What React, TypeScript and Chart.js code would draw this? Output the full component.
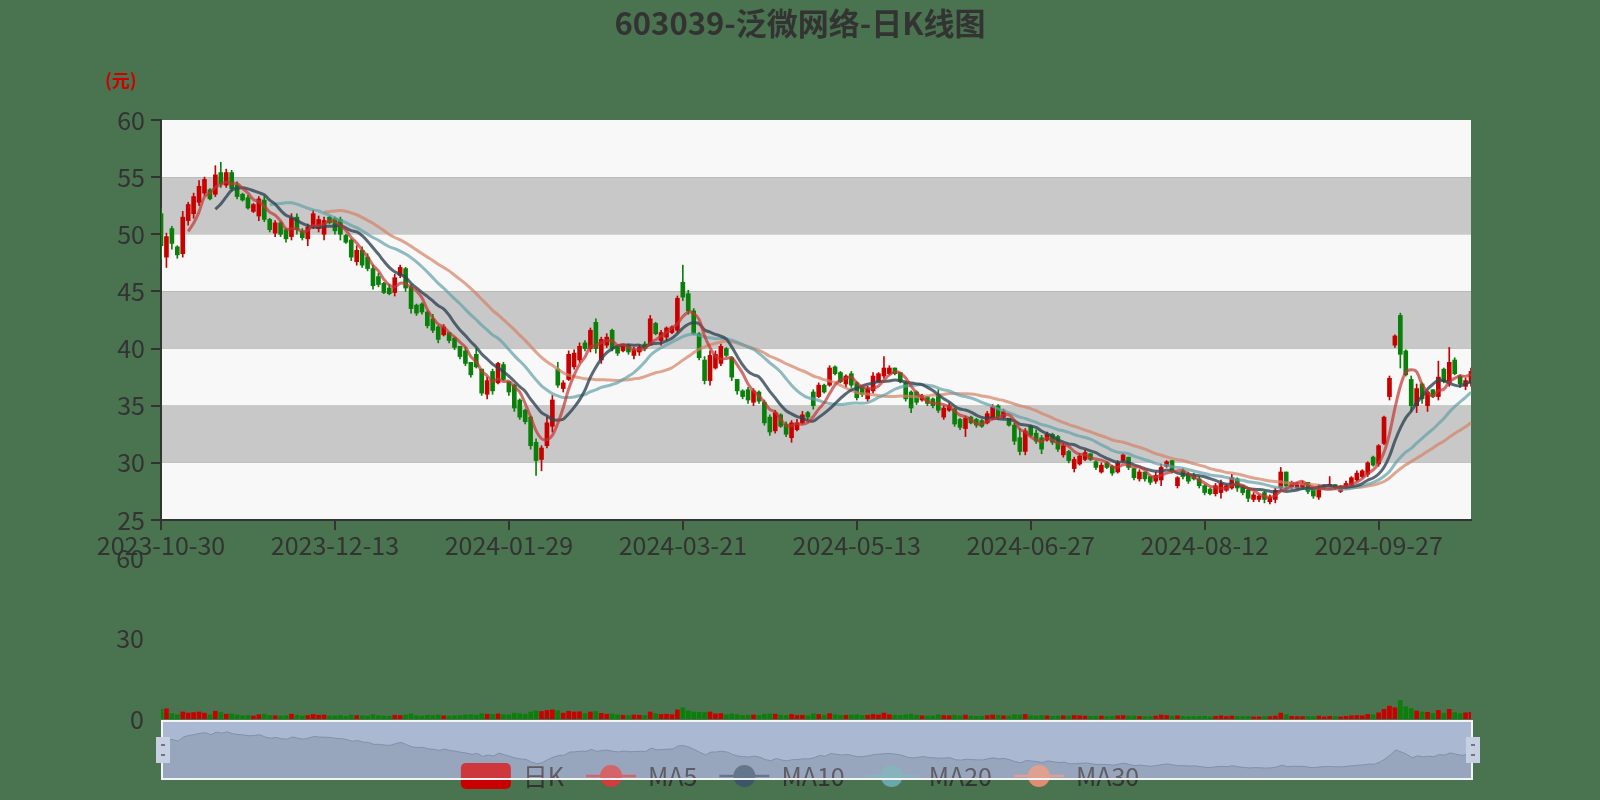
import React, { useEffect, useRef } from "react";
import { Chart, registerables } from "chart.js";

Chart.register(...registerables);

const FONT = "'Noto Sans CJK SC', 'Noto Sans', sans-serif";
const BG = "#4a7350";
const UP = "#c80000";
const DOWN = "#0a800a";

const titleText = "603039-泛微网络-日K线图";
const unitText = "(元)";
const seriesNames = ["日K", "MA5", "MA10", "MA20", "MA30"];
const maPeriods = [5, 10, 20, 30];
const maColors = ["rgba(194,53,49,0.7)", "rgba(47,69,84,0.8)", "rgba(97,160,168,0.7)", "rgba(212,130,101,0.7)"];
const legendColors = ["#c80000", "#d23c3c", "#3b5569", "#6aa6ad", "#e08c70"];

const dates = [
  "2023-10-30", "2023-10-31",
  "2023-11-01", "2023-11-02", "2023-11-03", "2023-11-06", "2023-11-07", "2023-11-08", "2023-11-09", "2023-11-10", "2023-11-13", "2023-11-14", "2023-11-15", "2023-11-16", "2023-11-17", "2023-11-20", "2023-11-21", "2023-11-22", "2023-11-23", "2023-11-24", "2023-11-27", "2023-11-28", "2023-11-29", "2023-11-30",
  "2023-12-01", "2023-12-04", "2023-12-05", "2023-12-06", "2023-12-07", "2023-12-08", "2023-12-11", "2023-12-12", "2023-12-13", "2023-12-14", "2023-12-15", "2023-12-18", "2023-12-19", "2023-12-20", "2023-12-21", "2023-12-22", "2023-12-25", "2023-12-26", "2023-12-27", "2023-12-28", "2023-12-29",
  "2024-01-02", "2024-01-03", "2024-01-04", "2024-01-05", "2024-01-08", "2024-01-09", "2024-01-10", "2024-01-11", "2024-01-12", "2024-01-15", "2024-01-16", "2024-01-17", "2024-01-18", "2024-01-19", "2024-01-22", "2024-01-23", "2024-01-24", "2024-01-25", "2024-01-26", "2024-01-29", "2024-01-30", "2024-01-31",
  "2024-02-01", "2024-02-02", "2024-02-05", "2024-02-06", "2024-02-07", "2024-02-08", "2024-02-19", "2024-02-20", "2024-02-21", "2024-02-22", "2024-02-23", "2024-02-26", "2024-02-27", "2024-02-28", "2024-02-29",
  "2024-03-01", "2024-03-04", "2024-03-05", "2024-03-06", "2024-03-07", "2024-03-08", "2024-03-11", "2024-03-12", "2024-03-13", "2024-03-14", "2024-03-15", "2024-03-18", "2024-03-19", "2024-03-20", "2024-03-21", "2024-03-22", "2024-03-25", "2024-03-26", "2024-03-27", "2024-03-28", "2024-03-29",
  "2024-04-01", "2024-04-02", "2024-04-03", "2024-04-08", "2024-04-09", "2024-04-10", "2024-04-11", "2024-04-12", "2024-04-15", "2024-04-16", "2024-04-17", "2024-04-18", "2024-04-19", "2024-04-22", "2024-04-23", "2024-04-24", "2024-04-25", "2024-04-26", "2024-04-29", "2024-04-30",
  "2024-05-06", "2024-05-07", "2024-05-08", "2024-05-09", "2024-05-10", "2024-05-13", "2024-05-14", "2024-05-15", "2024-05-16", "2024-05-17", "2024-05-20", "2024-05-21", "2024-05-22", "2024-05-23", "2024-05-24", "2024-05-27", "2024-05-28", "2024-05-29", "2024-05-30", "2024-05-31",
  "2024-06-03", "2024-06-04", "2024-06-05", "2024-06-06", "2024-06-07", "2024-06-11", "2024-06-12", "2024-06-13", "2024-06-14", "2024-06-17", "2024-06-18", "2024-06-19", "2024-06-20", "2024-06-21", "2024-06-24", "2024-06-25", "2024-06-26", "2024-06-27", "2024-06-28",
  "2024-07-01", "2024-07-02", "2024-07-03", "2024-07-04", "2024-07-05", "2024-07-08", "2024-07-09", "2024-07-10", "2024-07-11", "2024-07-12", "2024-07-15", "2024-07-16", "2024-07-17", "2024-07-18", "2024-07-19", "2024-07-22", "2024-07-23", "2024-07-24", "2024-07-25", "2024-07-26", "2024-07-29", "2024-07-30", "2024-07-31",
  "2024-08-01", "2024-08-02", "2024-08-05", "2024-08-06", "2024-08-07", "2024-08-08", "2024-08-09", "2024-08-12", "2024-08-13", "2024-08-14", "2024-08-15", "2024-08-16", "2024-08-19", "2024-08-20", "2024-08-21", "2024-08-22", "2024-08-23", "2024-08-26", "2024-08-27", "2024-08-28", "2024-08-29", "2024-08-30",
  "2024-09-02", "2024-09-03", "2024-09-04", "2024-09-05", "2024-09-06", "2024-09-09", "2024-09-10", "2024-09-11", "2024-09-12", "2024-09-13", "2024-09-18", "2024-09-19", "2024-09-20", "2024-09-23", "2024-09-24", "2024-09-25", "2024-09-26", "2024-09-27", "2024-09-30",
  "2024-10-08", "2024-10-09", "2024-10-10", "2024-10-11", "2024-10-14", "2024-10-15", "2024-10-16", "2024-10-17", "2024-10-18", "2024-10-21", "2024-10-22", "2024-10-23", "2024-10-24", "2024-10-25", "2024-10-28", "2024-10-29",
];

const openPrices = [
  51.8, 48.0, 50.5, 48.9, 48.3, 51.2, 51.8, 52.8, 53.6, 53.9,
  53.5, 55.4, 54.3, 55.4, 54.3, 53.5, 53.2, 52.0, 51.6, 53.0,
  51.3, 50.1, 51.0, 50.4, 49.8, 51.5, 50.3, 49.6, 50.6, 50.5,
  50.0, 51.5, 51.4, 51.3, 49.9, 49.5, 47.6, 48.6, 48.0, 47.0,
  46.3, 45.7, 45.3, 44.9, 46.4, 47.0, 45.4, 43.8, 43.9, 43.2,
  42.6, 41.9, 41.2, 41.4, 40.9, 40.2, 39.8, 38.8, 39.5, 38.2,
  36.0, 38.0, 37.0, 38.6, 37.1, 36.8, 35.5, 34.6, 34.0, 31.8,
  30.3, 31.5, 33.2, 38.2, 36.5, 37.3, 38.4, 39.0, 40.5, 40.0,
  42.3, 39.0, 40.3, 41.6, 40.2, 39.8, 40.3, 39.4, 39.7, 40.4,
  40.3, 42.2, 40.7, 41.0, 41.4, 41.6, 45.8, 44.8, 43.3, 41.3,
  39.0, 37.2, 38.3, 38.7, 40.0, 39.2, 37.3, 36.3, 36.4, 35.3,
  36.2, 35.3, 34.0, 32.8, 34.2, 33.4, 32.2, 32.9, 33.5, 34.4,
  36.2, 35.8, 36.8, 36.8, 38.4, 37.9, 36.9, 37.8, 37.0, 36.6,
  35.6, 36.3, 37.1, 37.6, 37.8, 38.3, 37.9, 37.0, 36.2, 36.2,
  35.5, 35.8, 35.6, 36.0, 34.0, 34.6, 34.7, 33.8, 33.0, 34.0,
  33.8, 33.7, 33.5, 33.9, 35.0, 34.0, 33.9, 33.3, 32.2, 31.0,
  33.2, 32.6, 32.2, 32.0, 32.5, 32.3, 30.7, 31.0, 29.5, 29.9,
  30.3, 30.8, 30.1, 29.2, 30.0, 29.7, 29.2, 30.2, 30.5, 29.5,
  28.6, 29.2, 28.8, 28.4, 28.5, 29.7, 30.2, 28.0, 29.3, 29.0,
  28.9, 28.6, 28.0, 27.7, 27.3, 27.4, 27.6, 27.8, 28.6, 27.9,
  27.6, 26.8, 26.8, 27.4, 26.6, 26.8, 27.8, 29.2, 27.9, 27.8,
  27.9, 28.3, 27.8, 27.0, 27.8, 27.8, 28.1, 27.5, 27.8, 28.1,
  28.5, 28.8, 29.0, 30.5, 29.9, 31.7, 35.8, 40.3, 42.9, 39.8,
  37.3, 35.0, 36.9, 35.0, 36.4, 35.8, 38.2, 37.0, 39.0, 37.6,
  36.7, 37.0,
];

const closePrices = [
  49.0, 49.8, 49.2, 48.2, 51.5, 52.6, 53.3, 54.2, 54.8, 53.1,
  55.2, 54.4, 55.4, 54.0, 53.3, 53.0, 52.3, 52.6, 53.1, 51.3,
  50.4, 51.0, 50.0, 49.6, 51.4, 50.4, 49.7, 50.6, 51.8, 51.3,
  51.2, 51.0, 50.3, 50.0, 49.3, 48.0, 48.6, 47.3, 47.0, 45.5,
  45.6, 44.9, 44.8, 46.2, 47.1, 45.3, 43.5, 43.1, 43.2, 42.0,
  41.6, 40.8, 41.9, 40.7, 40.1, 39.3, 38.7, 37.7, 38.4, 36.1,
  37.2, 36.3, 38.7, 37.3, 36.2, 34.8, 34.0, 33.6, 31.5, 30.2,
  31.3, 33.5, 35.5, 36.8, 37.0, 39.5, 39.6, 40.2, 40.0, 41.6,
  40.0, 40.8, 41.0, 40.0, 39.6, 40.3, 39.7, 39.9, 40.1, 40.0,
  42.6, 41.3, 41.4, 41.8, 41.9, 44.4, 44.5, 43.3, 41.3, 39.2,
  37.2, 39.4, 39.5, 40.2, 39.4, 37.5, 36.3, 35.8, 35.5, 36.3,
  35.4, 33.5, 32.7, 34.4, 33.2, 32.5, 33.5, 33.5, 34.2, 34.0,
  35.0, 36.8, 36.2, 38.3, 37.8, 37.1, 37.6, 36.8, 35.7, 36.0,
  36.5, 37.6, 37.8, 38.3, 38.3, 37.8, 37.1, 35.6, 34.8, 35.3,
  35.9, 35.2, 35.0, 34.6, 34.8, 35.0, 33.4, 33.1, 33.9, 33.5,
  33.3, 33.2, 34.3, 34.9, 34.0, 34.5, 33.3, 31.9, 31.0, 32.8,
  32.4, 31.9, 31.2, 32.5, 31.8, 31.2, 31.5, 30.2, 30.3, 30.6,
  30.9, 30.3, 29.6, 29.8, 29.6, 29.1, 30.0, 30.7, 29.6, 28.7,
  29.2, 28.6, 28.3, 28.9, 29.6, 30.1, 29.3, 28.7, 28.8, 28.4,
  28.6, 28.0, 27.4, 27.3, 28.0, 28.2, 28.0, 28.7, 27.8, 27.4,
  26.9, 27.2, 27.1, 26.8, 27.0, 27.6, 29.2, 28.0, 28.3, 28.2,
  28.2, 27.5, 27.1, 27.8, 28.0, 28.1, 27.8, 27.8, 28.2, 28.7,
  29.1, 29.3, 30.0, 29.8, 31.5, 34.0, 37.4, 41.1, 39.5, 37.7,
  35.0, 36.5, 35.6, 36.2, 35.8, 37.5, 37.1, 38.8, 37.8, 36.9,
  37.2, 38.0,
];

const lowPrices = [
  47.8, 47.1, 48.7, 47.9, 48.0, 50.8, 51.4, 52.5, 53.4, 53.0,
  53.3, 54.1, 54.1, 53.8, 53.1, 52.9, 52.2, 51.9, 51.2, 51.1,
  50.2, 49.8, 49.8, 49.3, 49.5, 50.0, 49.5, 49.0, 50.5, 50.2,
  49.5, 50.9, 50.0, 49.5, 49.2, 47.7, 47.3, 47.1, 46.8, 45.2,
  45.4, 44.8, 44.7, 44.6, 46.2, 45.0, 43.1, 42.9, 43.0, 41.8,
  41.4, 40.5, 41.1, 40.5, 39.9, 39.1, 38.5, 37.5, 38.3, 35.9,
  35.6, 36.0, 36.9, 37.2, 35.9, 34.5, 33.8, 33.4, 31.2, 28.9,
  29.3, 31.3, 32.7, 36.6, 36.2, 37.2, 38.2, 38.8, 39.8, 39.7,
  39.6, 38.7, 40.1, 39.8, 39.4, 39.7, 39.5, 39.1, 39.4, 39.8,
  40.3, 41.2, 40.3, 40.7, 41.3, 41.4, 44.2, 43.0, 41.2, 39.0,
  36.9, 36.8, 38.2, 38.5, 39.3, 37.2, 36.0, 35.6, 35.2, 35.0,
  35.2, 33.3, 32.4, 32.6, 33.1, 32.3, 31.8, 32.8, 33.4, 33.8,
  34.7, 35.7, 36.1, 36.7, 37.7, 37.0, 36.6, 36.6, 35.5, 35.8,
  35.4, 36.1, 37.0, 37.4, 37.7, 37.7, 37.0, 35.4, 34.4, 35.1,
  35.4, 35.0, 34.8, 34.4, 33.8, 34.5, 33.2, 32.9, 32.3, 33.4,
  33.1, 33.1, 33.4, 33.8, 33.8, 33.9, 33.2, 31.6, 30.7, 30.7,
  32.3, 31.7, 30.8, 31.9, 31.6, 31.0, 30.5, 30.0, 29.2, 29.8,
  30.2, 30.2, 29.4, 29.1, 29.5, 28.9, 29.1, 30.1, 29.4, 28.5,
  28.4, 28.4, 28.1, 28.2, 28.0, 29.6, 29.1, 27.8, 28.6, 28.2,
  28.5, 27.8, 27.2, 27.2, 27.1, 26.9, 27.5, 27.7, 27.5, 27.2,
  26.6, 26.6, 26.6, 26.5, 26.4, 26.5, 27.7, 27.7, 27.7, 27.7,
  27.7, 27.3, 26.9, 26.8, 27.7, 27.7, 27.7, 27.4, 27.7, 28.0,
  28.4, 28.7, 28.8, 29.7, 29.7, 31.6, 35.5, 40.1, 38.3, 37.6,
  34.5, 34.4, 35.2, 34.5, 35.7, 35.5, 37.0, 36.7, 37.7, 36.6,
  36.4, 36.7,
];

const highPrices = [
  52.3, 50.1, 50.7, 49.0, 52.0, 52.8, 53.6, 54.7, 55.0, 54.0,
  56.0, 56.3, 55.7, 55.6, 54.6, 53.6, 53.4, 52.7, 53.3, 53.3,
  51.4, 51.2, 51.1, 50.5, 51.8, 51.8, 50.5, 50.9, 52.1, 51.6,
  51.5, 51.6, 51.5, 51.5, 50.0, 49.6, 49.0, 48.9, 48.3, 47.3,
  46.6, 45.8, 45.6, 46.5, 47.3, 47.1, 45.6, 43.9, 44.0, 43.3,
  43.0, 42.0, 42.1, 41.4, 41.0, 40.2, 40.1, 38.8, 40.0, 38.2,
  37.5, 38.2, 38.8, 38.8, 37.1, 36.9, 35.6, 34.7, 34.1, 32.1,
  31.5, 34.0, 35.9, 38.8, 37.2, 39.8, 39.9, 40.5, 40.7, 41.8,
  42.6, 41.0, 41.3, 41.7, 40.3, 40.4, 40.4, 40.1, 40.3, 40.6,
  42.9, 42.3, 41.6, 41.9, 42.0, 44.6, 47.3, 45.1, 43.5, 41.4,
  39.3, 39.8, 39.8, 40.4, 40.1, 39.3, 37.3, 36.4, 36.6, 36.5,
  36.3, 35.5, 34.2, 34.6, 34.3, 33.6, 33.7, 33.8, 34.5, 34.5,
  36.4, 37.0, 36.9, 38.5, 38.5, 38.0, 37.7, 38.0, 37.1, 36.7,
  36.7, 37.9, 37.9, 39.3, 38.5, 38.3, 37.9, 37.1, 36.3, 36.3,
  36.0, 35.8, 35.7, 36.4, 35.0, 35.2, 34.8, 33.9, 34.1, 34.1,
  33.9, 33.8, 34.5, 35.1, 35.1, 34.7, 33.9, 33.5, 33.0, 33.0,
  33.3, 32.9, 32.4, 32.7, 32.6, 32.4, 31.7, 31.1, 30.5, 30.8,
  31.1, 30.8, 30.2, 30.0, 30.1, 29.8, 30.2, 30.8, 30.5, 29.5,
  29.4, 29.2, 28.8, 29.2, 29.9, 30.2, 30.2, 28.8, 29.5, 29.2,
  29.1, 28.8, 28.1, 27.8, 28.2, 28.5, 28.1, 29.0, 28.7, 28.0,
  27.7, 27.4, 27.2, 27.5, 27.2, 27.8, 29.6, 29.2, 28.4, 28.3,
  28.4, 28.3, 27.8, 28.1, 28.1, 28.8, 28.1, 28.0, 28.4, 28.8,
  29.3, 29.4, 30.1, 30.6, 31.6, 34.1, 37.6, 41.2, 43.1, 39.9,
  37.6, 36.9, 37.0, 36.3, 36.4, 38.9, 38.3, 40.1, 39.2, 37.7,
  37.4, 38.3,
];

const volumes = [
  3.6, 3.8, 2.0, 1.6, 2.6, 2.2, 2.4, 2.6, 2.2, 1.5,
  2.9, 2.4, 1.8, 1.9, 1.5, 1.2, 1.3, 1.1, 1.6, 1.7,
  1.3, 1.2, 1.1, 1.2, 1.8, 1.4, 1.1, 1.3, 1.7, 1.4,
  1.5, 1.1, 1.2, 1.3, 1.0, 1.5, 1.3, 1.2, 1.1, 1.6,
  1.2, 1.1, 1.0, 1.4, 1.3, 1.5, 1.9, 1.2, 1.1, 1.4,
  1.3, 1.5, 1.2, 1.1, 1.2, 1.3, 1.5, 1.6, 1.4, 2.0,
  1.8, 1.7, 1.9, 1.6, 1.5, 2.2, 2.0, 1.8, 2.6, 3.0,
  2.8, 3.2, 3.4, 3.1, 2.2, 2.9, 2.6, 2.7, 2.0, 2.6,
  2.8, 2.1, 1.8, 1.9, 1.5, 1.4, 1.3, 1.5, 1.4, 1.3,
  2.6, 2.0, 1.7, 1.8, 1.6, 3.4, 4.2, 3.0, 2.6, 2.5,
  2.4, 2.6, 1.9, 2.0, 1.6, 1.9, 1.6, 1.3, 1.4, 1.5,
  1.3, 1.8, 1.9, 1.8, 1.4, 1.3, 1.7, 1.3, 1.4, 1.2,
  1.9, 1.7, 1.4, 2.0, 1.6, 1.3, 1.4, 1.5, 1.6, 1.3,
  1.4, 1.7, 1.5, 2.2, 1.6, 1.4, 1.3, 1.6, 1.8, 1.4,
  1.2, 1.1, 1.1, 1.6, 1.3, 1.2, 1.4, 1.2, 1.5, 1.1,
  1.0, 1.0, 1.3, 1.5, 1.4, 1.2, 1.1, 1.6, 1.5, 1.7,
  1.2, 1.1, 1.3, 1.2, 1.0, 1.1, 1.2, 1.1, 1.3, 1.2,
  1.1, 1.0, 1.0, 1.1, 0.9, 1.0, 1.2, 1.3, 1.1, 1.1,
  1.0, 0.9, 0.9, 1.1, 1.5, 1.3, 1.1, 1.2, 1.0, 0.9,
  0.9, 1.0, 1.0, 0.8, 1.0, 1.2, 0.9, 1.1, 1.0, 0.9,
  1.0, 0.8, 0.8, 0.9, 0.9, 1.1, 2.2, 1.6, 1.0, 0.9,
  0.9, 1.0, 0.9, 1.1, 0.8, 1.0, 0.9, 0.8, 1.0, 1.2,
  1.3, 1.2, 1.7, 1.5, 2.3, 3.6, 4.8, 4.2, 6.9, 4.6,
  3.9, 3.0, 2.6, 2.5, 2.1, 3.2, 2.2, 3.6, 2.4, 2.0,
  2.3, 2.5,
];

function movingAverage(values: number[], n: number) {
  return values.map((_, i) => {
    if (i < n) return null;
    let s = 0;
    for (let j = 0; j < n; j++) s += values[i - j];
    return +(s / n).toFixed(2);
  });
}

const bandsPlugin = {
  id: "bands",
  beforeDraw(chart: any) {
    const { ctx, chartArea: a, scales } = chart;
    const y = scales.y;
    const ticks = y.ticks.map((t: any) => t.value).sort((p: number, q: number) => q - p);
    ctx.save();
    for (let k = 0; k < ticks.length - 1; k++) {
      const top = y.getPixelForValue(ticks[k]);
      const bot = y.getPixelForValue(ticks[k + 1]);
      ctx.fillStyle = k % 2 === 0 ? "#f8f8f8" : "#c8c8c8";
      ctx.fillRect(a.left, top, a.right - a.left, bot - top);
    }
    ctx.restore();
  },
  afterDraw(chart: any) {
    const { ctx } = chart;
    ctx.save();
    ctx.fillStyle = "#333";
    ctx.font = `bold 31px ${FONT}`;
    ctx.textAlign = "center";
    ctx.textBaseline = "middle";
    ctx.fillText(titleText, 800, 23);
    ctx.fillStyle = "#d00000";
    ctx.font = `bold 18px ${FONT}`;
    ctx.textAlign = "left";
    ctx.fillText(unitText, 105, 80);
    ctx.restore();
  },
};

const sliderPlugin = {
  id: "slider",
  beforeDraw(chart: any) {
    const { ctx, chartArea: a } = chart;
    ctx.save();
    ctx.fillStyle = "rgb(153,173,199)";
    ctx.fillRect(a.left, a.top, a.right - a.left, a.bottom - a.top);
    ctx.restore();
  },
  afterDraw(chart: any) {
    const { ctx, chartArea: a } = chart;
    ctx.save();
    // legend
    ctx.font = `25px ${FONT}`;
    const iconW = 50;
    const gapIT = 12;
    const gapItem = 22;
    const widths = seriesNames.map((n) => ctx.measureText(n).width);
    const total = widths.reduce((s, w) => s + iconW + gapIT + w, 0) + gapItem * (seriesNames.length - 1);
    let x = 800 - total / 2;
    const cy = 776;
    seriesNames.forEach((name, k) => {
      const col = legendColors[k];
      if (k === 0) {
        ctx.fillStyle = col;
        ctx.beginPath();
        (ctx as any).roundRect(x, cy - 13, iconW, 26, 5);
        ctx.fill();
      } else {
        ctx.strokeStyle = col;
        ctx.lineWidth = 2.5;
        ctx.beginPath();
        ctx.moveTo(x, cy);
        ctx.lineTo(x + iconW, cy);
        ctx.stroke();
        ctx.fillStyle = col;
        ctx.beginPath();
        ctx.arc(x + iconW / 2, cy, 11, 0, Math.PI * 2);
        ctx.fill();
      }
      ctx.fillStyle = "#333";
      ctx.textAlign = "left";
      ctx.textBaseline = "middle";
      ctx.fillText(name, x + iconW + gapIT, cy);
      x += iconW + gapIT + widths[k] + gapItem;
    });
    // translucent slider overlay
    ctx.fillStyle = "rgba(225,220,240,0.25)";
    ctx.fillRect(a.left, a.top, a.right - a.left, a.bottom - a.top);
    // border
    ctx.strokeStyle = "#f4f4f8";
    ctx.lineWidth = 2;
    ctx.strokeRect(a.left, a.top, a.right - a.left, a.bottom - a.top);
    // handles
    [a.left, a.right].forEach((hx: number) => {
      ctx.fillStyle = "rgb(198,208,226)";
      ctx.fillRect(hx - 6, 737, 14, 26);
      ctx.strokeStyle = "#556";
      ctx.lineWidth = 1.5;
      ctx.beginPath();
      ctx.moveTo(hx - 1, 745);
      ctx.lineTo(hx + 3, 745);
      ctx.moveTo(hx - 1, 755);
      ctx.lineTo(hx + 3, 755);
      ctx.stroke();
    });
    ctx.restore();
  },
};

export default function App() {
  const mainRef = useRef<HTMLCanvasElement>(null);
  const volRef = useRef<HTMLCanvasElement>(null);
  const zoomRef = useRef<HTMLCanvasElement>(null);

  useEffect(() => {
    const colors = closePrices.map((c, i) => (c >= openPrices[i] ? UP : DOWN));
    const bodies = closePrices.map((c, i) => [Math.min(openPrices[i], c), Math.max(openPrices[i], c)]);
    const wicks = lowPrices.map((l, i) => [l, highPrices[i]]);
    const maData = maPeriods.map((n) => movingAverage(closePrices, n));

    const axisFont = { size: 25, family: FONT };

    const main = new Chart(mainRef.current as HTMLCanvasElement, {
      type: "bar",
      data: {
        labels: dates,
        datasets: [
          ...maData.map((d, k) => ({
            type: "line" as const,
            label: seriesNames[k + 1],
            data: d,
            borderColor: maColors[k],
            borderWidth: 3,
            pointRadius: 0,
            tension: 0.3,
            fill: false,
            order: 0,
          })),
          {
            type: "bar" as const,
            label: "body",
            data: bodies as any,
            backgroundColor: colors,
            barThickness: 4,
            grouped: false,
            minBarLength: 1,
            order: 1,
          },
          {
            type: "bar" as const,
            label: "wick",
            data: wicks as any,
            backgroundColor: colors,
            barThickness: 1,
            grouped: false,
            order: 2,
          },
        ],
      },
      options: {
        animation: false,
        responsive: false,
        layout: { padding: { left: 0, top: 120, right: 129, bottom: 200 } },
        plugins: { legend: { display: false }, tooltip: { enabled: false } },
        scales: {
          x: {
            type: "category",
            offset: false,
            grid: {
              offset: false,
              drawOnChartArea: false,
              drawTicks: true,
              tickLength: 10,
              lineWidth: 2,
              color: (c: any) => (c.index % 32 === 0 ? "#333" : "rgba(0,0,0,0)"),
            },
            border: { display: true, color: "#333", width: 2 },
            ticks: {
              autoSkip: false,
              maxRotation: 0,
              minRotation: 0,
              padding: 0,
              color: "#333",
              font: axisFont,
              callback: (_v: any, i: number) => (i % 32 === 0 ? dates[i] : ""),
            },
            afterFit: (s: any) => {
              s.height = 80;
            },
          },
          y: {
            min: 25,
            max: 60,
            ticks: { stepSize: 5, padding: 6, color: "#333", font: axisFont },
            grid: { drawOnChartArea: false, tickLength: 10, color: "#333", lineWidth: 2 },
            border: { display: true, color: "#333", width: 2 },
            afterFit: (s: any) => {
              s.width = 161;
            },
          },
        },
      },
      plugins: [bandsPlugin],
    } as any);

    const vol = new Chart(volRef.current as HTMLCanvasElement, {
      type: "bar",
      data: {
        labels: dates,
        datasets: [
          {
            label: "VOL",
            data: volumes,
            backgroundColor: colors,
            barThickness: 4,
          },
        ],
      },
      options: {
        animation: false,
        responsive: false,
        layout: { padding: { left: 0, top: 558, right: 129, bottom: 81 } },
        plugins: { legend: { display: false }, tooltip: { enabled: false } },
        scales: {
          x: { type: "category", offset: false, display: false },
          y: {
            min: 0,
            max: 60,
            ticks: { stepSize: 30, padding: 17, color: "#333", font: axisFont },
            grid: { display: false, drawTicks: false },
            border: { display: false },
            afterFit: (s: any) => {
              s.width = 161;
            },
          },
        },
      },
    } as any);

    const lo = Math.min(...closePrices);
    const hi = Math.max(...closePrices);
    const pad = (hi - lo) * 0.3;

    const zoom = new Chart(zoomRef.current as HTMLCanvasElement, {
      type: "line",
      data: {
        labels: dates,
        datasets: [
          {
            label: "shadow",
            data: closePrices,
            borderColor: "rgb(98,120,147)",
            borderWidth: 1,
            backgroundColor: "rgb(128,148,173)",
            fill: "start",
            pointRadius: 0,
            tension: 0,
          },
        ],
      },
      options: {
        animation: false,
        responsive: false,
        layout: { padding: { left: 162, top: 721, right: 128, bottom: 21 } },
        plugins: { legend: { display: false }, tooltip: { enabled: false } },
        scales: {
          x: { type: "category", offset: false, display: false },
          y: { display: false, min: lo - pad, max: hi + pad },
        },
      },
      plugins: [sliderPlugin],
    } as any);

    const charts = [main, vol, zoom];
    if ((document as any).fonts && (document as any).fonts.ready) {
      (document as any).fonts.ready.then(() => charts.forEach((c) => c.update()));
    }
    return () => charts.forEach((c) => c.destroy());
  }, []);

  const cstyle: React.CSSProperties = { position: "absolute", left: 0, top: 0, width: 1600, height: 800 };
  return (
    <div style={{ position: "fixed", left: 0, top: 0, width: 1600, height: 800, background: BG, overflow: "hidden" }}>
      <canvas ref={mainRef} width={1600} height={800} style={cstyle} />
      <canvas ref={volRef} width={1600} height={800} style={cstyle} />
      <canvas ref={zoomRef} width={1600} height={800} style={cstyle} />
    </div>
  );
}
